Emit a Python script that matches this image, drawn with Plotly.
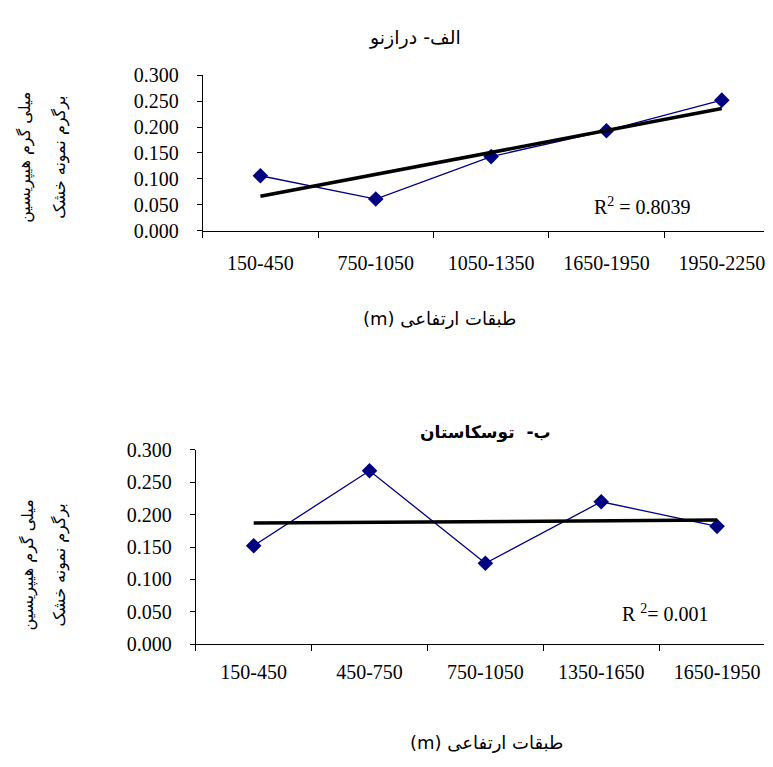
import numpy as np
import plotly.graph_objects as go

# ---- data ----
cats_a = ["150-450", "750-1050", "1050-1350", "1650-1950", "1950-2250"]
vals_a = [0.106, 0.061, 0.143, 0.193, 0.252]
title_a = "الف- درازنو"
r2_a = "R<sup>2</sup> = 0.8039"

cats_b = ["150-450", "450-750", "750-1050", "1350-1650", "1650-1950"]
vals_b = [0.152, 0.268, 0.125, 0.220, 0.182]
title_b = "<b>ب-  توسکاستان</b>"
r2_b = "R <sup>2</sup>= 0.001"

ytitle_1 = "میلی گرم هیپریسین"
ytitle_2 = "برگرم نمونه خشک"
xtitle = "(m) طبقات ارتفاعی"

# page body has an 8px margin; the figure is sized to fit the window without scrollbars
OFF = 8
W, H = 773 - 2 * OFF, 767 - 2 * OFF
SERIF = "Liberation Serif, Times New Roman, DejaVu Sans, serif"
AR = "DejaVu Sans, Noto Sans, sans-serif"
NAVY = "#000080"


def trend(vals):
    x = np.arange(1, len(vals) + 1)
    m, b = np.polyfit(x, vals, 1)
    return list(m * x + b)


fig = go.Figure()
for cats, vals, xa, ya in [(cats_a, vals_a, "x", "y"), (cats_b, vals_b, "x2", "y2")]:
    fig.add_trace(go.Scatter(x=cats, y=vals, mode="lines+markers", xaxis=xa, yaxis=ya,
                             line=dict(color=NAVY, width=1.3),
                             marker=dict(symbol="diamond", size=12, color=NAVY),
                             showlegend=False))
    fig.add_trace(go.Scatter(x=cats, y=trend(vals), mode="lines", xaxis=xa, yaxis=ya,
                             line=dict(color="black", width=3.5), showlegend=False))


def px_x(p):
    return (p - OFF) / W


def px_y(p):
    return 1 - (p - OFF) / H


xcommon = dict(type="category", tickson="boundaries", ticks="outside", ticklen=6,
               tickcolor="black", showline=True, linecolor="black", linewidth=1,
               showgrid=False, zeroline=False,
               tickfont=dict(family=SERIF, size=20, color="black"))
ycommon = dict(range=[0, 0.3], dtick=0.05, tickformat=".3f", ticks="outside", ticklen=5,
               tickcolor="black", showline=True, linecolor="black", linewidth=1,
               showgrid=False, zeroline=False, ticklabelstandoff=14,
               tickfont=dict(family=SERIF, size=20, color="black"))

# right end of the window is page x=765; category width 115.5 px (top), 116 px (bottom)
top_end = -0.5 + (765 - 203) / 115.5
bot_end = -0.5 + (765 - 196) / 116.0

fig.update_layout(
    width=W, height=H, autosize=False,
    margin=dict(l=0, r=0, t=0, b=0),
    paper_bgcolor="white", plot_bgcolor="white",
    xaxis=dict(domain=[px_x(203), 1], range=[-0.5, top_end], anchor="y",
               ticklabelstandoff=14, **xcommon),
    yaxis=dict(domain=[px_y(226), px_y(66)], anchor="x", **ycommon),
    xaxis2=dict(domain=[px_x(196), 1], range=[-0.5, bot_end], anchor="y2",
                ticklabelstandoff=10, **xcommon),
    yaxis2=dict(domain=[px_y(652), px_y(452)], anchor="x2", **ycommon),
)

ann = []


def add(text, x, y, size, family, angle=0):
    ann.append(dict(text=text, x=px_x(x), y=px_y(y), xref="paper", yref="paper",
                    showarrow=False, xanchor="center", yanchor="middle",
                    textangle=angle, font=dict(family=family, size=size, color="black")))


add(title_a, 416, 27, 19, AR)
add(title_b, 486, 434, 17, AR)
add(r2_a, 643, 201, 20, SERIF)
add(r2_b, 666, 620, 20, SERIF)
add(xtitle, 440, 317, 18, AR)
add(xtitle, 487, 753, 18, AR)
add(ytitle_1, 25, 150, 16, AR, -90)
add(ytitle_2, 60, 150, 16, AR, -90)
add(ytitle_1, 28, 570, 16, AR, -90)
add(ytitle_2, 60, 570, 16, AR, -90)

fig.update_layout(annotations=ann)
fig.write_html("out.html")
